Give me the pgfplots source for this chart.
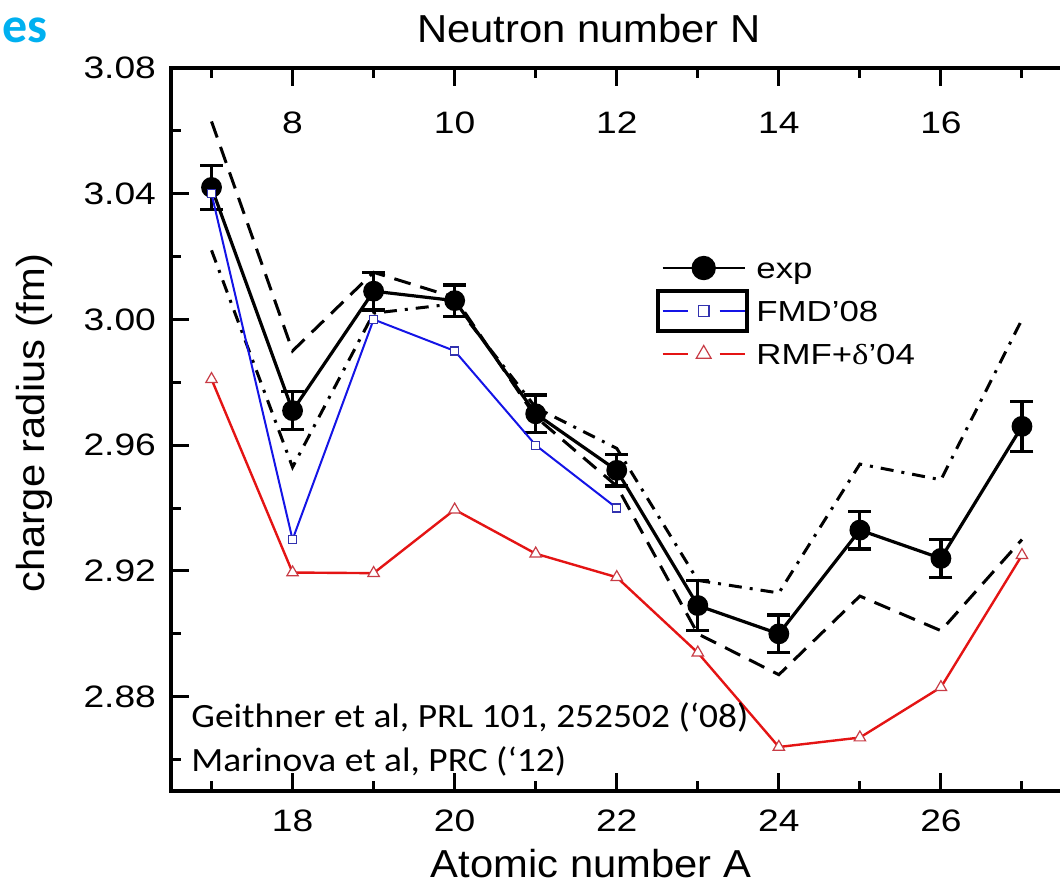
\documentclass[border=0pt]{standalone}
\usepackage{fontspec}
\setmainfont{Liberation Sans}
\newfontfamily\calib{Carlito}
\usepackage{graphicx}
\usepackage{pgfplots}
\pgfplotsset{compat=1.18}
\usepackage{pgfplotstable}

\definecolor{blueline}{RGB}{20,20,230}
\definecolor{bluemark}{RGB}{50,50,175}
\definecolor{redline}{RGB}{228,20,20}
\definecolor{redmark}{RGB}{200,60,70}
\definecolor{slideblue}{RGB}{0,176,240}

\newcommand{\wide}[1]{\scalebox{1.2}[1]{#1}}

\pgfplotsset{
    gap legend/.style={legend image code/.code={
        \draw[##1] (0pt,0pt) -- (12.5pt,0pt);
        \draw[##1] (28.5pt,0pt) -- (41pt,0pt);
        \draw[##1, every mark/.append style={scale=1.3}] plot coordinates {(20.5pt,0pt)};
    }},
    full legend/.style={legend image code/.code={
        \draw[##1, line width=1.3pt] (0pt,0pt) -- (41pt,0pt);
        \draw[##1, every mark/.append style={scale=1.2}] plot coordinates {(20.5pt,0pt)};
    }},
}

% measured charge radii (fm) with errors
\pgfplotstableread{
A  r      e
17 3.042  0.007
18 2.971  0.006
19 3.009  0.006
20 3.006  0.005
21 2.970  0.006
22 2.952  0.005
23 2.909  0.008
24 2.900  0.006
25 2.933  0.006
26 2.924  0.006
27 2.966  0.008
}\expdata

\pgfplotstableread{
A  r
17 3.040
18 2.930
19 3.000
20 2.990
21 2.960
22 2.940
}\fmddata

\pgfplotstableread{
A  r
17 2.981
18 2.9195
19 2.9193
20 2.9395
21 2.9255
22 2.918
23 2.894
24 2.864
25 2.867
26 2.883
27 2.925
}\rmfdata

% systematic bands
\pgfplotstableread{
A  r
17 3.063
18 2.990
19 3.015
20 3.007
21 2.969
22 2.947
23 2.900
24 2.887
25 2.912
26 2.901
27 2.930
}\banddash

\pgfplotstableread{
A  r
17 3.022
18 2.953
19 3.002
20 3.005
21 2.972
22 2.959
23 2.917
24 2.913
25 2.954
26 2.949
27 3.000
}\banddot

\begin{document}
\begin{tikzpicture}
\useasboundingbox (-85.5pt,-52pt) rectangle (444.5pt,395.5pt);
\clip (-85.5pt,-52pt) rectangle (444.5pt,395.5pt);
\begin{axis}[
    scale only axis, width=445.75pt, height=361.5pt,
    xmin=16.5, xmax=27.5, ymin=2.85, ymax=3.08,
    xtick={18,20,22,24,26}, minor xtick={17,19,21,23,25,27},
    ytick={2.88,2.92,2.96,3.00,3.04,3.08},
    minor ytick={2.86,2.90,2.94,2.98,3.02,3.06},
    xtick pos=left, ytick pos=left,
    tick align=inside,
    major tick length=9pt, minor tick length=5pt,
    every tick/.style={black, line width=1.5pt},
    axis line style={line width=2pt},
    /pgf/number format/assume math mode=true,
    tick label style={font=\fontsize{15.5}{18}\selectfont},
    xticklabel={\wide{\pgfmathprintnumber{\tick}}},
    yticklabel={\wide{\pgfmathprintnumber[fixed,fixed zerofill,precision=2]{\tick}}},
    yticklabel style={xshift=-4pt},
    xticklabel style={yshift=-5.8pt},
    legend style={draw=none, fill=none, at={(0.5501,0.751)}, anchor=north west,
        inner sep=0pt, outer sep=0pt, row sep=1.5pt, column sep=5.2pt,
        font=\fontsize{14.5}{16}\selectfont,
        nodes={text height=15pt, text depth=5pt, inner sep=0pt}},
    legend cell align=left,
]
\addplot[black, line width=1.5pt, dash pattern=on 8.5pt off 5pt, forget plot]
    table[x=A, y=r] {\banddash};
\addplot[black, line width=1.5pt, dash pattern=on 6.5pt off 4pt on 1.5pt off 4pt, forget plot]
    table[x=A, y=r] {\banddot};
\addplot[black, line width=1.6pt, mark=*, mark size=4.4pt, full legend,
    error bars/.cd, y dir=both, y explicit,
    error bar style={line width=1.6pt, solid},
    error mark options={rotate=90, mark size=5.75pt, line width=1.6pt}]
    table[x=A, y=r, y error=e] {\expdata};
\addlegendentry{\wide{exp}}
\addplot[blueline, line width=1pt, mark=square*, mark size=2pt, gap legend,
    mark options={fill=white, draw=bluemark, line width=0.6pt, solid}]
    table[x=A, y=r] {\fmddata};
\addlegendentry{\wide{FMD'08}}
\addplot[redline, line width=1.2pt, mark=triangle*, mark size=3.3pt, gap legend,
    mark options={fill=white, draw=redmark, line width=0.6pt, solid}]
    table[x=A, y=r] {\rmfdata};
\addlegendentry{\wide{RMF+{\fontspec{Liberation Serif}δ}'04}}
\end{axis}
\begin{axis}[
    scale only axis, width=445.75pt, height=361.5pt,
    xmin=6.5, xmax=17.5, ymin=0, ymax=1,
    axis x line*=top, axis y line=none,
    xtick={8,10,12,14,16}, minor xtick={7,9,11,13,15,17},
    tick align=inside,
    major tick length=9pt, minor tick length=5pt,
    every tick/.style={black, line width=1.5pt},
    axis line style={line width=2pt},
    /pgf/number format/assume math mode=true,
    tick label style={font=\fontsize{15.5}{18}\selectfont},
    xticklabel={\wide{\pgfmathprintnumber{\tick}}},
    xticklabel style={anchor=center, yshift=-27.5pt},
]
\end{axis}
\node[font=\fontsize{19.5}{22}\selectfont] at (209pt,381pt) {\scalebox{1.07}[1]{Neutron number N}};
\node[font=\fontsize{19.5}{22}\selectfont] at (210pt,-36.5pt) {\scalebox{1.07}[1]{Atomic number A}};
\node[rotate=90, font=\fontsize{19.5}{22}\selectfont] at (-68.5pt,184pt) {\scalebox{1.07}[1]{charge radius (fm)}};
\node[anchor=base west, inner sep=0pt, text=slideblue,
    font=\calib\bfseries\fontsize{25}{30}\selectfont] at (-84.5pt,374pt) {es};
\node[anchor=base west, inner sep=0pt, font=\calib\fontsize{17}{20}\selectfont]
    at (10pt,32pt) {\scalebox{1.1}[1]{Geithner et al, PRL 101, 252502 (‘08)}};
\node[anchor=base west, inner sep=0pt, font=\calib\fontsize{17}{20}\selectfont]
    at (10pt,10pt) {\scalebox{1.1}[1]{Marinova et al, PRC (‘12)}};
\draw[line width=2pt] (243.5pt,230pt) rectangle (288pt,250pt);
\end{tikzpicture}
\end{document}
